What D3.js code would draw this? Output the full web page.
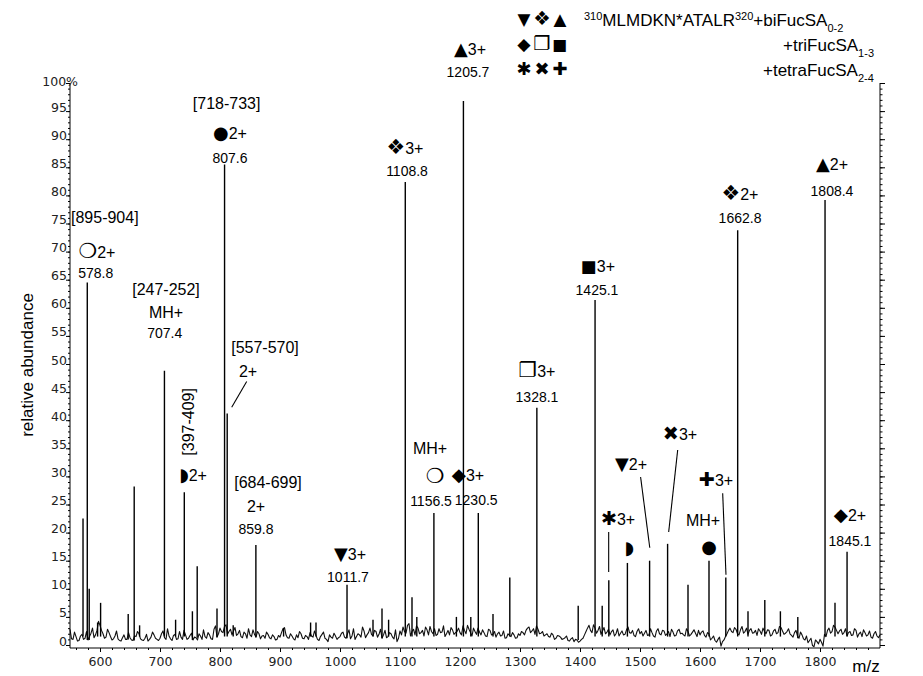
<!DOCTYPE html>
<html><head><meta charset="utf-8">
<script src="https://cdn.jsdelivr.net/npm/d3@7"></script>
<style>
body{margin:0;background:#fff;}
svg{display:block;font-family:"Liberation Sans",Arial,sans-serif;}
</style></head>
<body><svg id="c" width="923" height="676"></svg>
<script>
// ---------- DATA ----------
const mzDomain = [550, 1900];
const yTicks = [0,5,10,15,20,25,30,35,40,45,50,55,60,65,70,75,80,85,90,95,100];
const xTicks = [600,700,800,900,1000,1100,1200,1300,1400,1500,1600,1700,1800];
// baseline noise, one value every 5 m/z starting at 550
const baselineStart = 550, baselineStep = 5;
const baseline = [
 2.8,1.0,1.5,0.8,1.9,1.2,0.9,2.1,1.3,2.6,
 3.5,2.0,1.4,2.2,0.9,1.6,1.1,0.7,1.8,1.0,1.3,0.8,1.5,2.0,0.9,1.2,0.7,1.4,1.8,1.0,
 1.2,2.5,1.0,1.6,0.8,1.9,1.1,1.4,2.6,1.0,1.7,0.9,1.3,2.0,1.0,1.5,2.2,1.1,2.8,1.4,
 3.0,2.2,3.6,2.4,1.8,3.1,2.0,1.5,2.3,1.2,1.8,2.7,1.4,2.0,1.6,1.2,1.9,1.1,1.5,1.0,
 1.4,2.9,1.8,1.2,1.6,0.9,1.3,2.0,1.1,1.5,2.2,1.4,1.7,0.8,1.9,1.2,0.6,1.4,2.1,1.0,
 1.5,2.3,1.2,2.7,1.6,1.0,2.0,1.4,2.5,1.8,3.0,1.6,2.4,1.9,1.2,2.6,1.5,2.0,1.1,0.6,
 2.5,3.2,2.1,3.8,2.4,1.8,3.0,2.2,1.6,2.7,3.3,2.0,1.7,2.9,2.3,1.5,2.6,3.1,1.9,2.4,
 2.2,3.4,2.0,2.8,1.6,2.4,3.0,1.8,2.2,1.5,2.6,1.9,1.4,2.3,1.7,1.2,2.0,1.5,1.8,1.3,
 1.7,2.2,2.6,3.2,2.5,1.9,2.8,2.1,1.6,2.0,1.4,1.8,1.2,1.6,1.0,1.3,0.8,1.1,0.6,0.9,
 0.7,1.2,2.4,3.5,2.2,3.0,2.6,1.9,3.1,2.3,1.8,2.7,2.0,1.6,2.5,1.9,3.2,2.1,1.7,2.4,
 2.0,1.6,2.6,1.8,2.2,1.4,2.9,1.8,2.5,2.0,1.5,2.3,1.7,2.8,2.1,1.6,2.4,1.9,2.7,1.5,
 1.8,2.5,1.4,2.0,1.2,0.8,1.0,-0.2,0.9,2.0,3.0,2.2,2.8,1.8,3.3,2.4,1.9,2.9,2.2,1.7,
 2.5,3.0,2.0,2.6,1.8,2.8,2.2,3.1,1.9,2.4,2.0,1.4,2.6,1.2,1.8,0.9,0.4,1.2,-0.3,0.6,
 1.0,-0.2,1.5,3.0,2.4,3.2,2.0,2.8,2.2,1.6,2.4,1.8,2.6,2.0,1.5,2.2,1.8,1.4,2.0,1.6,
 1.8
];
// in-between baseline samples, one every 5 m/z starting at 552.5
const baseline2Start = 552.5;
const baseline2 = [
 1.1,2.3,0.7,1.6,1.0,2.4,1.5,3.0,1.8,4.2,
 2.6,1.2,2.8,1.5,1.1,2.5,0.8,1.3,1.0,2.2,0.9,1.6,2.4,1.1,0.8,1.9,1.0,2.3,1.2,0.8,
 2.0,1.3,2.9,1.1,1.7,1.0,2.4,1.0,1.8,1.2,2.1,1.4,0.9,1.6,2.7,1.2,1.8,1.0,3.4,2.0,
 2.4,3.3,1.9,2.8,2.5,1.7,2.6,1.3,2.0,2.9,1.5,1.9,2.4,1.1,1.7,2.3,1.3,1.8,0.9,1.7,
 2.2,3.1,1.3,2.0,1.1,1.8,2.4,1.2,1.7,1.0,1.6,2.5,1.0,1.5,2.3,1.0,1.8,1.2,1.6,1.3,
 2.1,1.4,2.0,1.1,2.9,1.5,1.8,3.2,1.3,2.2,1.9,2.6,1.4,2.8,1.8,1.3,2.2,1.4,2.7,1.2,
 1.8,2.4,3.5,1.6,2.8,3.4,2.0,2.6,3.2,1.8,2.4,2.9,1.9,2.2,3.4,2.0,1.8,2.7,2.2,3.0,
 1.8,2.6,3.5,2.2,3.0,1.9,2.3,2.7,1.6,2.8,1.8,2.4,2.0,1.6,2.5,1.3,1.7,2.2,1.2,2.0,
 2.4,1.8,3.0,2.2,2.9,3.4,2.0,2.4,1.8,1.5,2.1,1.0,1.7,1.4,1.1,1.6,0.7,1.3,1.0,0.5,
 1.0,1.8,3.0,2.6,3.6,2.1,3.3,2.5,2.0,2.8,2.4,1.6,2.9,2.1,1.8,2.7,2.2,2.6,1.5,2.9,
 2.4,2.1,1.7,2.9,1.6,2.5,2.0,2.6,1.7,2.4,2.8,1.6,2.5,2.0,1.8,2.9,1.6,2.3,2.1,2.6,
 2.3,1.7,2.2,0.9,1.6,0.5,1.4,0.6,1.5,2.6,2.4,3.1,2.0,2.7,2.1,3.0,2.6,2.1,2.6,2.9,
 1.9,2.4,2.7,1.6,2.5,2.0,3.3,2.5,2.1,2.9,1.7,2.2,1.6,2.3,1.1,1.6,0.8,-0.1,0.9,0.2,
 0.5,1.9,2.6,2.1,3.5,2.6,2.5,1.9,2.9,2.2,1.7,2.9,1.4,2.3,2.7,1.6,2.5,1.2,2.4,1.3
];
// peaks: m/z and relative abundance (%)
const peakMz = [571.7,578.8,582,596,601,647,657,666,707.4,726,740.5,754,762,795,807.6,812,822,859.8,906,951,960,1011.7,1055,1070,1081,1108.8,1120,1128,1156.5,1194,1205.7,1218,1230.5,1255,1283,1328.1,1397,1425.1,1437,1448,1479,1516,1546,1580,1615,1643,1662.8,1680,1708,1734,1763,1808.4,1825,1845.1];
const peakVal = [22.5,64.5,10,4,7.5,5.5,28.2,3.5,48.8,4.5,27.2,6,14,6.5,85.5,41.2,3.5,17.8,3,4,4,10.7,4.5,6.5,4.5,82.4,8.5,5,23.5,5,96.8,5,23.5,5.5,12,42.2,7,61.4,7,11.5,14.6,15,18,10.7,15,12,73.8,6,8,6,5,79.2,7.5,16.6];
// annotations: symbol, text, m/z, abundance
const annSym  = ["","\u274D","","","","","","\u25CF","","","","\u25D7","","","","\u25BC","","\u2756","","","\u274D","","\u25B2","","\u25C6","","\u2750","","\u25A0","","\u2731","\u25D7","\u25BC","\u2716","\u271A","","\u25CF","\u2756","","\u25B2","","\u25C6",""];
const annText = ["[895-904]","2+","578.8","[247-252]","MH+","707.4","[718-733]","2+","807.6","[557-570]","2+","2+","[684-699]","2+","859.8","3+","1011.7","3+","1108.8","MH+","","1156.5","3+","1205.7","3+","1230.5","3+","1328.1","3+","1425.1","3+","","2+","3+","3+","MH+","","2+","1662.8","2+","1808.4","2+","1845.1"];
const annMz  = [608,595,593,710,710,708,811,816.7,816.7,875,846.7,755,880,860,860,1016.7,1013.3,1108.3,1111.7,1150,1158.3,1151.7,1216.7,1213.3,1213.3,1227,1328.3,1328.3,1430,1428.3,1463.3,1481.7,1485,1566.7,1626.7,1605,1615,1666.7,1666.7,1820,1820,1850,1850];
const annVal = [76.0,69.9,66.2,63.2,59.1,55.5,96.4,91.1,86.6,53.0,48.6,30.1,29.0,24.7,20.6,16.2,12.1,88.3,84.3,34.9,29.9,25.6,105.9,102.0,30.2,25.8,48.6,44.1,67.4,63.2,22.4,17.1,32.2,37.5,29.2,22.1,17.3,80.2,76.0,85.6,80.8,23.0,18.5];
const annSize = [16,16,14,16,16,14,16,16,14,16,16,16,16,16,14,16,14,16,14,16,16,14,16,14,16,14,16,14,16,14,16,16,16,16,16,16,16,16,14,16,14,16,14];
// rotated annotation
const rotText = "[397-409]", rotMz = 746.7, rotVal = 39.7;
// leader lines [mz1, val1, mz2, val2]
const leaders = [[844.5,46.9,819.5,42.3],[1447.8,20.1,1447.8,13.0],[1501,29.9,1516.3,17.3],[1562.8,34.7,1547.8,20.1],[1637.8,27.0,1643.3,12.5]];
const legSym = [["\u25BC","\u2756","\u25B2"],["\u25C6","\u2750","\u25A0"],["\u2731","\u2716","\u271A"]];

// ---------- CHART ----------
const svg = d3.select("#c");
const x = d3.scaleLinear().domain(mzDomain).range([70, 880]);
const y = d3.scaleLinear().domain([0, 100]).range([645, 83]);

// symbol glyph sizes (relative) to mimic the printed symbols
const symScale = {"\u25CF":1.12,"\u25B2":1.12,"\u25BC":1.12,"\u25A0":1.05,"\u25C6":1.15,"\u2756":1.3,"\u2750":1.3,"\u2731":1.2,"\u2716":1.2,"\u271A":1.2,"\u274D":1.3,"\u25D7":1.15};

// spectrum baseline trace
const basePts = baseline.map((v,i)=>[baselineStart + i*baselineStep, v])
  .concat(baseline2.map((v,i)=>[baseline2Start + i*baselineStep, v]))
  .sort((a,b)=>a[0]-b[0]);
svg.append("path").datum(basePts)
  .attr("d", d3.line().x(d=>x(d[0])).y(d=>y(d[1])))
  .attr("fill","none").attr("stroke","#111").attr("stroke-width",1.1).attr("stroke-linejoin","round");

// peaks as sticks
const baseAt = m => baseline[Math.max(0,Math.min(baseline.length-1,Math.round((m-baselineStart)/baselineStep)))];
svg.append("g").selectAll("line").data(peakMz.map((m,i)=>({m, v:peakVal[i]})))
  .join("line")
  .attr("x1", d=>x(d.m)).attr("x2", d=>x(d.m))
  .attr("y1", d=>y(Math.min(baseAt(d.m),1.5))).attr("y2", d=>y(d.v))
  .attr("stroke","#000").attr("stroke-width",1.4);

// axes
const fmtY = d => d===100 ? "100%" : d;
const yAx = svg.append("g").attr("transform","translate(70,0)")
  .call(d3.axisLeft(y).tickValues(yTicks).tickSize(4).tickFormat(fmtY));
yAx.selectAll("text").attr("dy","0em").attr("x",-3).style("font-size","12.5px").style("font-family","'DejaVu Sans',sans-serif").attr("fill","#222");
yAx.select(".domain").attr("d","M0,83V648");
svg.append("g").attr("transform","translate(70,0)")
  .call(d3.axisLeft(y).tickValues(d3.range(0,101,1)).tickSize(2).tickFormat(""))
  .select(".domain").remove();
yAx.select(".tick:last-of-type text").attr("x",8).attr("dy","0.2em");

const rAx = svg.append("g").attr("transform","translate(880,0)")
  .call(d3.axisRight(y).tickValues(yTicks).tickSize(5).tickFormat(""));
rAx.select(".domain").attr("d","M0,83V648");
svg.append("g").attr("transform","translate(880,0)")
  .call(d3.axisRight(y).tickValues(d3.range(0,101,1)).tickSize(2.5).tickFormat(""))
  .select(".domain").remove();

const xAx = svg.append("g").attr("transform","translate(0,648)")
  .call(d3.axisBottom(x).tickValues(xTicks).tickSize(4).tickFormat(d3.format("d")));
xAx.select(".domain").attr("d","M70,0H880");
xAx.selectAll("text").attr("dy","0.9em").style("font-size","12.5px").style("font-family","'DejaVu Sans',sans-serif").attr("fill","#222");
svg.append("g").attr("transform","translate(0,648)")
  .call(d3.axisBottom(x).tickValues(d3.range(560,1900,20)).tickSize(2).tickFormat(""))
  .select(".domain").remove();

svg.append("text").attr("x",866).attr("y",672).attr("text-anchor","middle").style("font-size","17px").text("m/z");
svg.append("text").attr("transform","translate(33,365) rotate(-90)").attr("text-anchor","middle").style("font-size","17px").text("relative abundance");

// annotations
const ann = svg.append("g").selectAll("text").data(annText.map((t,i)=>({sym:annSym[i], t, m:annMz[i], v:annVal[i], s:annSize[i]})))
  .join("text")
  .attr("x", d=>x(d.m)).attr("y", d=>y(d.v)).attr("dy","0.35em")
  .attr("text-anchor","middle").style("font-size", d=>d.s+"px");
ann.each(function(d){
  const el = d3.select(this);
  if (d.sym) el.append("tspan").style("font-family","'DejaVu Sans',sans-serif")
      .style("font-size", (d.s*(symScale[d.sym]||1))+"px").text(d.sym);
  if (d.t) el.append("tspan").text(d.t);
});
svg.append("text").attr("transform",`translate(${x(rotMz)},${y(rotVal)}) rotate(-90)`)
  .attr("text-anchor","middle").attr("dy","0.35em").style("font-size","16px").text(rotText);
svg.append("g").selectAll("line").data(leaders).join("line")
  .attr("x1",d=>x(d[0])).attr("y1",d=>y(d[1])).attr("x2",d=>x(d[2])).attr("y2",d=>y(d[3]))
  .attr("stroke","#000").attr("stroke-width",1.1);

// legend
legSym.forEach((row,r)=>{
  svg.append("g").selectAll("text").data(row).join("text")
    .attr("x",(d,i)=>524+i*18).attr("y",25+r*25).attr("text-anchor","middle")
    .style("font-family","'DejaVu Sans',sans-serif")
    .style("font-size",d=>(15*(symScale[d]||1))+"px").text(d=>d);
});
const t1 = svg.append("text").attr("x",584).attr("y",26).style("font-size","17px");
t1.append("tspan").attr("baseline-shift","super").style("font-size","11px").text("310");
t1.append("tspan").text("MLMDKN*ATALR");
t1.append("tspan").attr("baseline-shift","super").style("font-size","11px").text("320");
t1.append("tspan").text("+biFucSA");
t1.append("tspan").attr("baseline-shift","sub").style("font-size","11px").text("0-2");
const t2 = svg.append("text").attr("x",783).attr("y",51).style("font-size","17px");
t2.append("tspan").text("+triFucSA");
t2.append("tspan").attr("baseline-shift","sub").style("font-size","11px").text("1-3");
const t3 = svg.append("text").attr("x",763).attr("y",76).style("font-size","17px");
t3.append("tspan").text("+tetraFucSA");
t3.append("tspan").attr("baseline-shift","sub").style("font-size","11px").text("2-4");
</script></body></html>
